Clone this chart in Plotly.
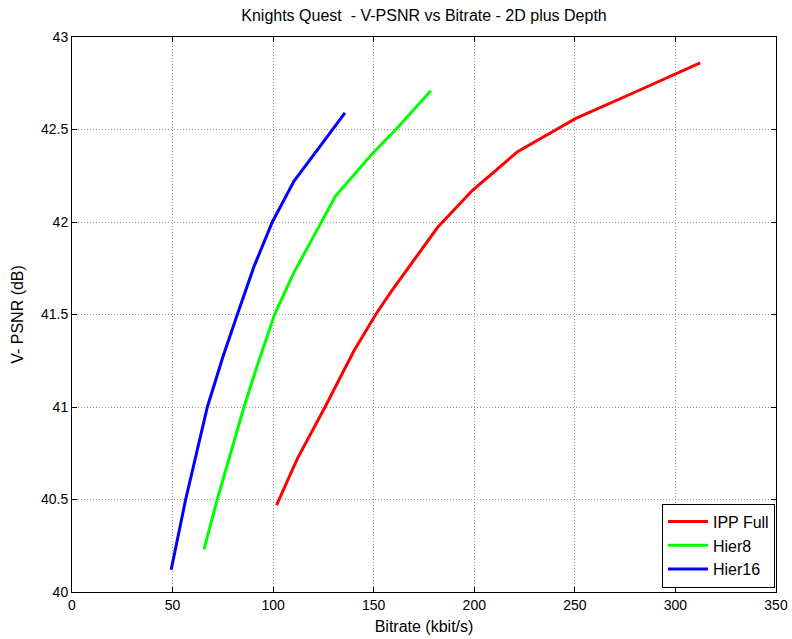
import plotly.graph_objects as go

# Data
ipp_x = [101.7, 112.0, 125.8, 140.0, 151.0, 158.4, 181.7, 199.0, 221.5, 250.5, 279.5, 312.3]
ipp_y = [40.47, 40.72, 41.00, 41.30, 41.50, 41.62, 41.97, 42.17, 42.38, 42.56, 42.70, 42.86]

hier8_x = [65.6, 72.2, 85.5, 92.0, 100.7, 110.0, 121.0, 131.0, 149.4, 161.0, 178.4]
hier8_y = [40.23, 40.50, 41.00, 41.22, 41.50, 41.72, 41.94, 42.14, 42.37, 42.50, 42.71]

hier16_x = [49.3, 56.5, 67.3, 75.0, 82.2, 90.5, 99.6, 110.3, 122.0, 135.7]
hier16_y = [40.12, 40.50, 41.00, 41.27, 41.50, 41.76, 42.00, 42.22, 42.39, 42.59]

series = [
    ("IPP Full", ipp_x, ipp_y, "#ff0000"),
    ("Hier8", hier8_x, hier8_y, "#00ff00"),
    ("Hier16", hier16_x, hier16_y, "#0000ff"),
]

x_ticks = [0, 50, 100, 150, 200, 250, 300, 350]
y_ticks = [40, 40.5, 41, 41.5, 42, 42.5, 43]

fig = go.Figure()
for name, xs, ys, col in series:
    fig.add_trace(go.Scatter(x=xs, y=ys, mode="lines", name=name,
                             line=dict(color=col, width=3)))

font_family = "Liberation Sans, Arial, sans-serif"
axis_common = dict(
    showline=True, linecolor="black", linewidth=1, mirror="allticks",
    ticks="inside", ticklen=5, tickcolor="black",
    showgrid=True, gridcolor="#9a9a9a", gridwidth=1, griddash="1px,2px",
    zeroline=False, tickfont=dict(size=14, color="black"), automargin=False,
)

fig.update_layout(
    width=792, height=639,
    margin=dict(l=72, r=16, t=37, b=47),
    paper_bgcolor="white", plot_bgcolor="white",
    font=dict(family=font_family, size=14, color="black"),
    title=dict(text="Knights Quest  - V-PSNR vs Bitrate - 2D plus Depth",
               x=0.5, xanchor="center", xref="paper", y=1, yref="container",
               yanchor="top", pad=dict(t=10),
               font=dict(size=16, color="black")),
    xaxis=dict(range=[0, 350], tickvals=x_ticks, ticktext=[str(v) for v in x_ticks],
               title=dict(text="Bitrate (kbit/s)", standoff=9, font=dict(size=16)),
               **axis_common),
    yaxis=dict(range=[40, 43], tickvals=y_ticks, ticktext=[str(v) for v in y_ticks],
               title=dict(text="V- PSNR (dB)", standoff=13, font=dict(size=16)),
               **axis_common),
    legend=dict(x=0.9985, y=0.008, xanchor="right", yanchor="bottom",
                bgcolor="white", bordercolor="black", borderwidth=1,
                font=dict(size=16), tracegroupgap=0, itemwidth=40),
    showlegend=True,
)

fig.write_html("out.html")
